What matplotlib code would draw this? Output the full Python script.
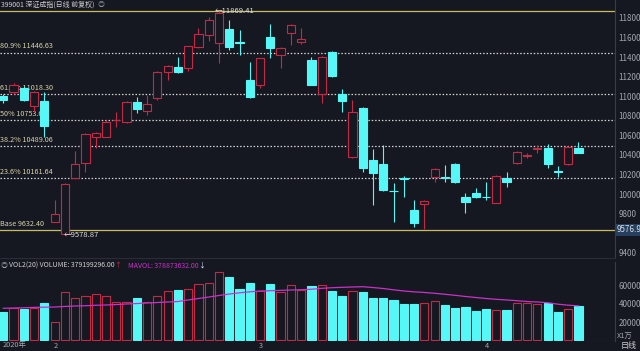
import matplotlib.pyplot as plt
from matplotlib.patches import Rectangle

plt.rcParams['font.family'] = ['Noto Sans CJK SC', 'DejaVu Sans']

# daily candles
opens = [11002, 11043, 11084, 10900, 10951, 9714, 9590, 10164, 10317, 10583,
         10583, 10752, 10736, 10941, 10849, 10982, 11247, 11299, 11288, 11503,
         11626, 11544, 11687, 11559, 11166, 11115, 11605, 11421, 11646, 11554,
         11370, 11023, 11452, 11023, 10378, 10879, 10348, 10307, 10036, 10169,
         9836, 9903, 10174, 10179, 10307, 9969, 10015, 9974, 9913, 10164,
         10322, 10394, 10465, 10470, 10240, 10307, 10475]
highs = [11022, 11135, 11104, 11053, 11043, 9939, 10110, 10440, 10624, 10634,
         10757, 10838, 10950, 10992, 11012, 11255, 11319, 11401, 11513, 11697,
         11810, 11869.41, 11779, 11677, 11350, 11391, 11738, 11500, 11738, 11697,
         11401, 11410, 11460, 11074, 10961, 10885, 10460, 10501, 10112, 10184,
         9939, 9935, 10262, 10297, 10317, 10010, 10061, 10123, 10194, 10225,
         10435, 10424, 10501, 10511, 10286, 10490, 10532]
lows = [10930, 11022, 10950, 10838, 10583, 9714, 9578.87, 10164, 10225, 10470,
        10583, 10685, 10726, 10828, 10808, 10961, 11166, 11240, 11258, 11495,
        11564, 11339, 11472, 11421, 10982, 11084, 11391, 11288, 11524, 11534,
        11110, 10930, 11200, 10838, 10370, 10225, 9888, 10035, 9714, 9969,
        9663, 9640, 10123, 10123, 10112, 9806, 9959, 9939, 9905, 10072,
        10307, 10368, 10419, 10266, 10174, 10297, 10419]
closes = [10961, 11114, 10961, 11043, 10695, 9796, 10102, 10307, 10614, 10624,
          10736, 10762, 10941, 10869, 10920, 11247, 11309, 11247, 11513, 11636,
          11779, 11851, 11503, 11549, 10992, 11391, 11493, 11493, 11728, 11585,
          11115, 11401, 11207, 10951, 10838, 10266, 10215, 10041, 10026, 10158,
          9703, 9928, 10256, 10169, 10123, 9918, 9969, 9966, 10184, 10118,
          10429, 10404, 10475, 10307, 10230, 10481, 10424]

# volume in units of 1万
volumes = [31500, 35200, 34800, 35900, 41300, 20500, 52700, 46100, 49000, 50500,
           48300, 42400, 42400, 46400, 42400, 49000, 53800, 54900, 56600, 61400,
           63200, 74500, 69700, 56600, 62500, 54100, 61400, 52700, 61000, 55200,
           59600, 60300, 54500, 48600, 54500, 53400, 46100, 46400, 44300, 39500,
           40200, 41000, 43200, 38500, 35500, 36600, 32600, 34100, 33700, 33000,
           41300, 41000, 39500, 40700, 30800, 34400, 37920]
mavol = [35200, 35500, 35800, 36200, 36400, 36600, 37200, 37700, 38000, 38500,
         38800, 39300, 39900, 40400, 41000, 41500, 42100, 42600, 44300, 45900,
         47500, 49200, 50800, 52100, 53200, 54100, 54400, 54800, 55200, 55500,
         56000, 57000, 57700, 58100, 58500, 58800, 57900, 56800, 55400, 54100,
         53200, 52500, 51600, 50500, 49400, 48100, 47000, 45900, 45000, 44300,
         43500, 42600, 42100, 41300, 39700, 38600, 37890]

fib_levels = [10161.64, 10489.06, 10753.68, 11018.30, 11446.63]
fib_labels = ['23.6% 10161.64', '38.2% 10489.06', '50% 10753.68',
              '61.8% 11018.30', '80.9% 11446.63']
base_level = 9632.40
top_level = 11874.97

month_pos = [0, 5, 25, 47]
month_labels = ['2020年', '2', '3', '4']

price_ticks = [9400, 9800, 10000, 10200, 10400, 10600, 10800,
               11000, 11200, 11400, 11600, 11800]
vol_ticks = [20000, 40000, 60000]

bg = '#161821'
red = '#c42a45'
cyan = '#55f7f7'
grey = '#a4a6ae'
yellow = '#c9bb62'

W, H = 640, 351
fig = plt.figure(figsize=(6.4, 3.51), dpi=100, facecolor=bg)
ax = fig.add_axes([0, (H - 258) / H, 615 / W, 258 / H], facecolor=bg)
axv = fig.add_axes([0, (H - 341) / H, 615 / W, 79 / H], facecolor=bg)

n = len(opens)
for i in range(n):
    o, c = opens[i], closes[i]
    up = c >= o
    col = red if up else cyan
    ax.vlines(i, lows[i], highs[i], color=col, lw=0.8, zorder=2)
    h = max(abs(c - o), 8)
    ax.add_patch(Rectangle((i - 0.4, min(o, c)), 0.8, h,
                           facecolor=bg if up else cyan, edgecolor=col,
                           lw=0.8, zorder=3))
    axv.add_patch(Rectangle((i - 0.4, 0), 0.8, volumes[i],
                            facecolor=bg if up else cyan, edgecolor=col,
                            lw=0.8, zorder=3))

axv.plot(range(n), mavol, color='#c832c8', lw=0.9, zorder=4)

for lv, lb in zip(fib_levels, fib_labels):
    ax.axhline(lv, color='#d4d4d4', lw=0.9, ls=(0, (1.2, 1.5)), zorder=1)
    ax.text(-0.3, lv + 25, lb, color='#d8d4a8', fontsize=5.2, va='bottom',
            ha='left', zorder=1)
ax.axhline(base_level, color=yellow, lw=0.9, zorder=1)
ax.text(-0.3, base_level + 25, 'Base 9632.40', color='#d8d4a8', fontsize=5.2,
        va='bottom', ha='left', zorder=1)
ax.axhline(top_level, color=yellow, lw=0.9, zorder=1)

ax.text(20.6, 11869.41, '←11869.41', color='#e0e0e0', fontsize=5.5,
        va='center', ha='left', zorder=5)
ax.text(5.9, 9578.87, '←9578.87', color='#e0e0e0', fontsize=5.5,
        va='center', ha='left', zorder=5)

x0, x1 = -0.32, 59.56
ax.set_xlim(x0, x1)
ax.set_ylim(9346, 11984)
axv.set_xlim(x0, x1)
axv.set_ylim(-550, 85800)

for a in (ax, axv):
    a.yaxis.tick_right()
    a.tick_params(axis='y', length=0, pad=2.5, labelsize=5.8, labelcolor=grey)
    a.set_xticks([])
    for s in a.spines.values():
        s.set_visible(False)
    a.spines['right'].set_visible(True)
    a.spines['right'].set_color('#3a3d48')
    a.spines['right'].set_linewidth(0.8)

ax.set_yticks(price_ticks)
axv.set_yticks(vol_ticks)
ax.spines['bottom'].set_visible(True)
ax.spines['bottom'].set_color('#2a2d38')

ax.text(1.002, (9632.4 - 9346) / (11984 - 9346), '9576.9', transform=ax.transAxes,
        ha='left', va='center', fontsize=5.8, color='#d8dce6',
        bbox=dict(boxstyle='square,pad=0.15', fc='#24405e', ec='none'))

# month labels under the volume panel
for p, lb in zip(month_pos, month_labels):
    xf = (p - 0.1 - x0) / (x1 - x0) * 615 / W
    fig.text(xf, 1 - 345.5 / H, lb, ha='left', va='center', fontsize=5.3,
             color=grey)
axv.axhline(-550, color='#3a3d48', lw=0.8)

fig.text(617 / W, 1 - 336 / H, 'X1万', fontsize=5.3, color=grey, va='center')
fig.text(621 / W, 1 - 345.5 / H, '日线', fontsize=5.8, color='#d0d0d0',
         va='center')


def text_row(x_px, y_px, parts, size):
    # place text pieces one after another along a row
    renderer = fig.canvas.get_renderer()
    x = x_px
    for s, col, gap in parts:
        t = fig.text(x / W, 1 - y_px / H, s, fontsize=size, color=col,
                     va='center', ha='left')
        w = t.get_window_extent(renderer).width
        x += w + gap


text_row(1, 5, [('399001 深证成指(日线 前复权)', '#d0d0d0', 3),
                ('◎', '#8a8c94', 0)], 5.0)
text_row(1, 265.5, [('◎', '#9a9ca4', 1),
                    ('VOL2(20) VOLUME: 379199296.00', '#d0d0d0', 0),
                    ('↑', red, 6),
                    ('MAVOL: 378873632.00', '#c832c8', 0),
                    ('↓', '#d0e8ff', 0)], 5.0)

fig.savefig('out.png', dpi=100, facecolor=bg)
